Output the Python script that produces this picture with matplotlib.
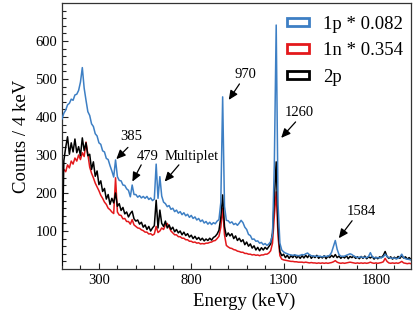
import numpy as np
import matplotlib
matplotlib.use("Agg")
import matplotlib.pyplot as plt
from matplotlib.patches import Patch

plt.rcParams['font.family'] = ['Liberation Serif', 'DejaVu Serif']
plt.rcParams['mathtext.fontset'] = 'stix'

# Energy bin centres (keV)
energy = np.arange(100, 2000, 10)

# 1p spectrum scaled by 0.082
counts_1p = [
    395, 410, 418, 432, 436, 447, 444, 458, 460, 470,
    492, 530, 476, 444, 414, 404, 382, 375, 356, 350,
    332, 328, 311, 308, 291, 288, 272, 258, 242, 287,
    243, 233, 232, 221, 220, 211, 207, 190, 221, 196,
    196, 189, 193, 187, 191, 186, 191, 183, 187, 180,
    184, 276, 186, 243, 192, 176, 172, 164, 167, 157,
    160, 151, 155, 147, 151, 143, 148, 140, 144, 136,
    141, 133, 137, 129, 133, 125, 129, 121, 125, 118,
    123, 117, 122, 119, 126, 130, 175, 453, 165, 128,
    127, 121, 124, 117, 120, 115, 121, 128, 122, 110,
    104, 91, 88, 78, 79, 73, 74, 68, 70, 64,
    67, 62, 66, 72, 90, 280, 642, 170, 68, 50,
    45, 42, 40, 38, 37, 36, 37, 36, 35, 36,
    38, 37, 40, 42, 37, 35, 34, 34, 33, 34,
    33, 32, 34, 33, 34, 36, 44, 60, 75, 52,
    38, 34, 33, 34, 36, 38, 40, 38, 34, 32,
    30, 31, 32, 30, 31, 30, 33, 43, 32, 30,
    29, 30, 29, 30, 32, 39, 33, 30, 29, 28,
    29, 27, 28, 32, 39, 30, 27, 26, 25, 24,
]

# 1n spectrum scaled by 0.354
counts_1n = [
    252, 262, 256, 274, 266, 284, 276, 292, 284, 300,
    288, 306, 296, 334, 302, 268, 252, 240, 226, 216,
    206, 194, 186, 176, 170, 160, 156, 150, 146, 240,
    150, 142, 141, 132, 133, 125, 125, 118, 130, 116,
    112, 108, 107, 103, 101, 97, 97, 92, 93, 89,
    92, 112, 96, 100, 108, 104, 116, 120, 110, 100,
    95, 90, 90, 85, 85, 81, 81, 77, 77, 73,
    73, 70, 71, 68, 69, 66, 67, 66, 68, 68,
    70, 71, 74, 75, 80, 86, 110, 160, 90, 62,
    58, 55, 54, 51, 50, 47, 46, 44, 44, 41,
    41, 39, 39, 37, 38, 36, 37, 35, 37, 37,
    39, 39, 42, 48, 68, 140, 203, 85, 35, 26,
    24, 23, 22, 21, 20, 20, 19, 19, 18, 18,
    18, 17, 18, 17, 16, 17, 16, 16, 15, 16,
    15, 16, 15, 16, 15, 16, 17, 19, 22, 18,
    16, 15, 16, 15, 16, 17, 18, 17, 16, 15,
    16, 15, 16, 15, 16, 15, 16, 18, 16, 15,
    16, 15, 16, 17, 19, 28, 20, 16, 15, 16,
    15, 16, 15, 17, 20, 16, 15, 14, 15, 14,
]

# 2p spectrum
counts_2p = [
    10, 285, 320, 348, 302, 332, 308, 342, 306, 322,
    298, 345, 312, 332, 298, 302, 262, 282, 244, 258,
    222, 232, 204, 212, 184, 196, 170, 186, 174, 200,
    165, 172, 154, 162, 145, 150, 137, 146, 152, 132,
    126, 129, 118, 123, 110, 116, 104, 112, 100, 108,
    114, 181, 108, 155, 120, 112, 126, 108, 116, 104,
    110, 98, 104, 95, 100, 90, 97, 88, 93, 84,
    89, 80, 86, 78, 83, 76, 81, 74, 79, 75,
    81, 76, 83, 86, 92, 102, 135, 195, 112, 86,
    95, 87, 93, 80, 87, 75, 81, 72, 77, 64,
    71, 60, 66, 55, 61, 50, 57, 48, 56, 50,
    57, 52, 59, 66, 95, 185, 282, 110, 46, 35,
    39, 30, 36, 28, 35, 30, 37, 29, 34, 28,
    35, 29, 36, 30, 38, 28, 34, 30, 36, 28,
    33, 29, 35, 27, 34, 30, 36, 31, 38, 30,
    34, 28, 33, 29, 35, 27, 33, 30, 34, 28,
    32, 27, 33, 28, 34, 27, 32, 29, 33, 26,
    31, 27, 32, 30, 36, 46, 33, 28, 32, 26,
    31, 27, 33, 28, 35, 29, 32, 26, 30, 25,
]

series_labels = ["1p * 0.082", "1n * 0.354", "2p"]
series_colors = ["#3d7fc4", "#e3191c", "#000000"]

# Annotations: label, text position, arrow tail, arrow tip (data units)
ann_labels = ["385", "479", "Multiplet", "970", "1260", "1584"]
ann_text = [(475, 348), (564, 296), (800, 296), (1094, 511), (1386, 411), (1720, 151)]
ann_tail = [(457, 320), (529, 274), (733, 274), (1061, 487), (1365, 387), (1671, 127)]
ann_tip = [(394, 289), (481, 230), (656, 230), (1003, 445), (1287, 345), (1599, 81)]

fig = plt.figure(figsize=(4.15, 3.17), dpi=100)
ax = fig.add_axes([62/415, 48/317, 349/415, 266/317])

ax.plot(energy, counts_1n, color=series_colors[1], lw=1.1, zorder=2)
ax.plot(energy, counts_2p, color=series_colors[2], lw=1.1, zorder=3)
ax.plot(energy, counts_1p, color=series_colors[0], lw=1.1, zorder=4)

ax.set_xlim(100, 1990)
ax.set_ylim(0, 700)
ax.set_xticks([300, 800, 1300, 1800])
ax.set_xticks(np.arange(200, 2000, 100), minor=True)
ax.set_yticks([100, 200, 300, 400, 500, 600])
ax.set_yticks(np.arange(20, 700, 20), minor=True)
ax.tick_params(which='both', direction='in', top=False, right=False, labelsize=10.5, color='#222222')
ax.tick_params(which='major', length=4, width=0.8)
ax.tick_params(which='minor', length=3, width=0.8)
for s in ax.spines.values():
    s.set_linewidth(0.9)
    s.set_color('#333333')

ax.set_xlabel("Energy (keV)", fontsize=13.5)
ax.xaxis.set_label_coords((243.7 - 62) / 349, -0.09)
ax.set_ylabel("Counts / 4 keV", fontsize=13.5, labelpad=4)

for lab, tpos, tail, tip in zip(ann_labels, ann_text, ann_tail, ann_tip):
    ax.text(tpos[0], tpos[1], lab, ha='center', va='center', fontsize=10.5)
    ax.annotate('', xy=tip, xytext=tail,
                arrowprops=dict(arrowstyle='-|>,head_width=0.25,head_length=0.55',
                                color='black', lw=0.9, shrinkA=0, shrinkB=0))

handles = [Patch(facecolor='white', edgecolor=c, linewidth=2) for c in series_colors]
ax.legend(handles, series_labels, loc='upper left', bbox_to_anchor=(0.645, 0.952),
          frameon=False, fontsize=13.5, handlelength=1.15, handleheight=0.3,
          handletextpad=0.75, labelspacing=0.5, borderpad=0, borderaxespad=0)

fig.savefig("out.png", dpi=100)
